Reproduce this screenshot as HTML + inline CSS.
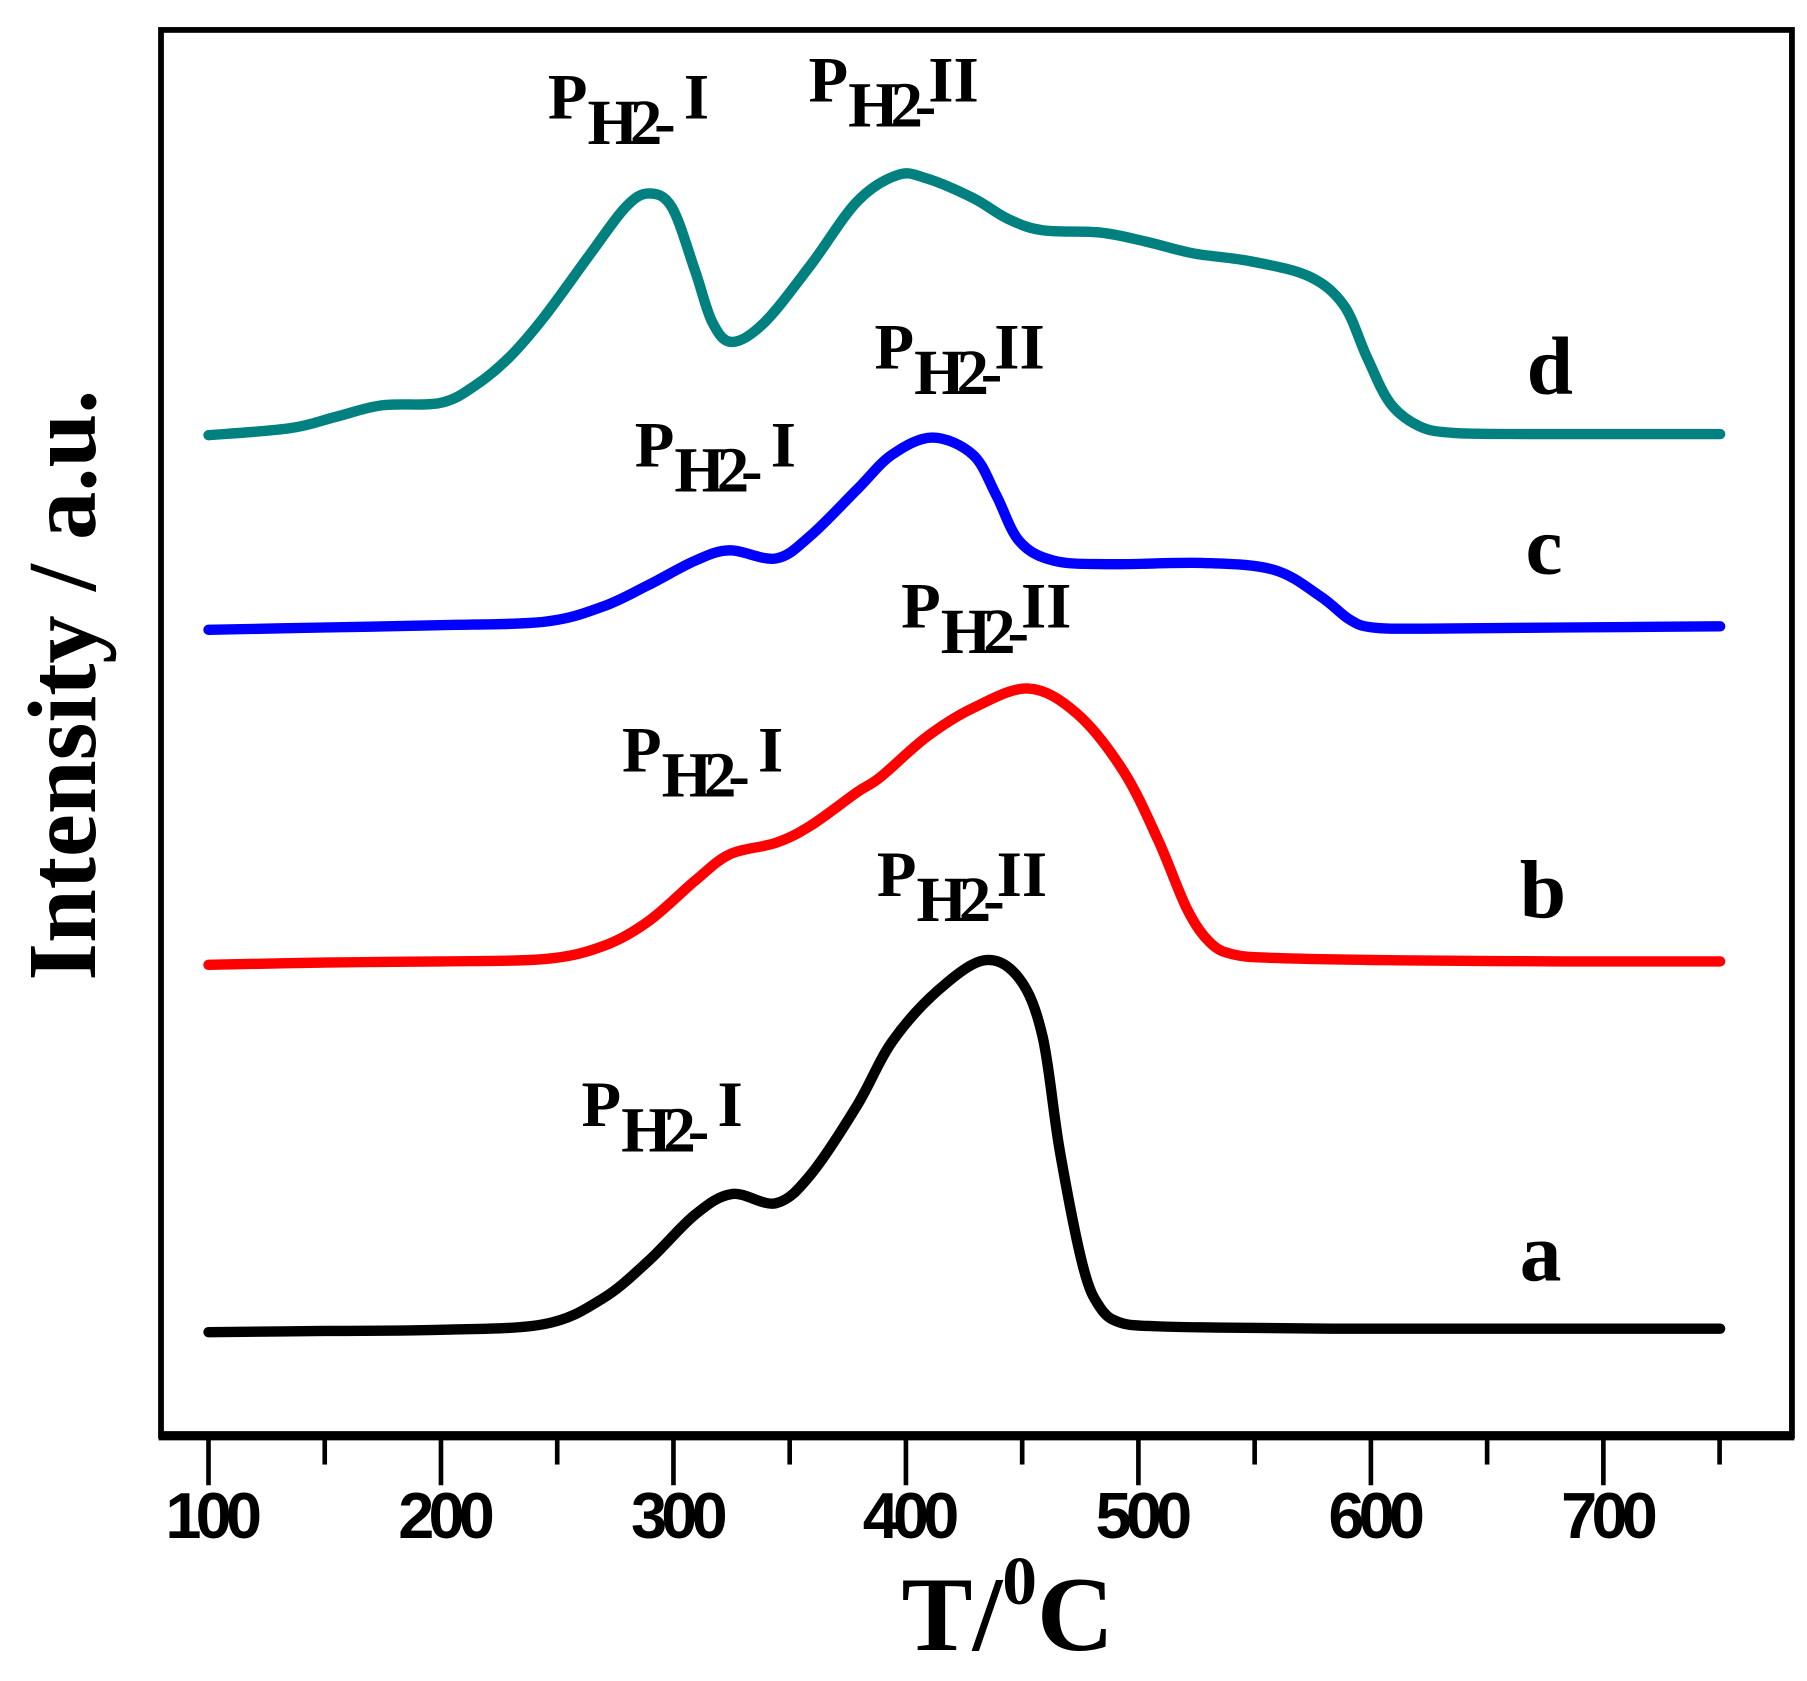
<!DOCTYPE html>
<html><head><meta charset="utf-8"><style>
html,body{margin:0;padding:0;background:#fff;}
svg{display:block;}
text{font-family:"Liberation Serif",serif;font-weight:bold;fill:#000;}
.tk text{font-family:"Liberation Sans",sans-serif;font-size:56px;letter-spacing:-5px;}
</style></head><body>
<svg id="s" width="1807" height="1681" viewBox="0 0 1560 1460" preserveAspectRatio="none" xmlns="http://www.w3.org/2000/svg">
<rect x="0" y="0" width="1560" height="1460" fill="#fff"/>
<rect x="139" y="26" width="1408" height="1221" fill="none" stroke="#000" stroke-width="5"/>
<line x1="137" y1="1247" x2="1549" y2="1247" stroke="#000" stroke-width="8"/>
<g stroke="#000" stroke-width="4" id="ticks"></g>
<g class="tk" text-anchor="middle">
<text x="182" y="1336">100</text><text x="383" y="1336">200</text><text x="584" y="1336">300</text><text x="784" y="1336">400</text><text x="985" y="1336">500</text><text x="1186" y="1336">600</text><text x="1387" y="1336">700</text>
</g>
<text x="870" y="1433" font-size="92" text-anchor="middle">T/<tspan font-size="60" dy="-40">0</tspan><tspan dy="40">C</tspan></text>
<text transform="translate(82,595) rotate(-90)" font-size="84" text-anchor="middle">Intensity / a.u.</text>
<g id="curves" fill="none" stroke-width="9" stroke-linecap="round" stroke-linejoin="round"></g>
<g font-size="56">
<text x="473" y="103">P<tspan dy="22" letter-spacing="-7">H2-</tspan><tspan dy="-22"> I</tspan></text>
<text x="698" y="88">P<tspan dy="22" letter-spacing="-7">H2-</tspan><tspan dy="-22">II</tspan></text>
<text x="548" y="405">P<tspan dy="22" letter-spacing="-7">H2-</tspan><tspan dy="-22"> I</tspan></text>
<text x="755" y="320">P<tspan dy="22" letter-spacing="-7">H2-</tspan><tspan dy="-22">II</tspan></text>
<text x="537" y="670">P<tspan dy="22" letter-spacing="-7">H2-</tspan><tspan dy="-22"> I</tspan></text>
<text x="778" y="545">P<tspan dy="22" letter-spacing="-7">H2-</tspan><tspan dy="-22">II</tspan></text>
<text x="502" y="978">P<tspan dy="22" letter-spacing="-7">H2-</tspan><tspan dy="-22"> I</tspan></text>
<text x="757" y="778">P<tspan dy="22" letter-spacing="-7">H2-</tspan><tspan dy="-22">II</tspan></text>
</g>
<g font-size="72" text-anchor="middle">
<text x="1338" y="342">d</text><text x="1333" y="498">c</text><text x="1332" y="797">b</text><text x="1330" y="1112">a</text>
</g>
</svg>
<script>
var NS="http://www.w3.org/2000/svg";
var tg=document.getElementById("ticks");
for(var i=0;i<=13;i++){var x=180+i*100.35;var l=document.createElementNS(NS,"line");
l.setAttribute("x1",x);l.setAttribute("x2",x);l.setAttribute("y1",1247);l.setAttribute("y2",i%2?1272:1290);tg.appendChild(l);}
function cr(p){var d="M"+p[0][0]+","+p[0][1];for(var i=0;i<p.length-1;i++){var p0=p[i-1]||p[i],p1=p[i],p2=p[i+1],p3=p[i+2]||p2;
d+=" C"+(p1[0]+(p2[0]-p0[0])/6)+","+(p1[1]+(p2[1]-p0[1])/6)+" "+(p2[0]-(p3[0]-p1[0])/6)+","+(p2[1]-(p3[1]-p1[1])/6)+" "+p2[0]+","+p2[1];}return d;}
var C=[
["#000",[[180,1157],[280,1156],[380,1155],[470,1150],[520,1128],[560,1095],[600,1055],[632,1037],[670,1045],[700,1020],[740,960],[770,905],[810,860],[850,834],[880,850],[900,900],[915,1000],[935,1100],[950,1136],[968,1149],[1000,1152],[1050,1153],[1150,1154],[1300,1154],[1485,1154]]],
["#ff0000",[[180,838],[280,836],[380,835],[470,833],[520,822],[560,800],[600,765],[630,742],[670,732],[700,717],[740,688],[760,675],[800,640],[840,615],[888,598],[930,620],[970,670],[1000,730],[1025,790],[1045,819],[1065,829],[1100,832],[1200,834],[1350,835],[1485,835]]],
["#0000ff",[[180,547],[280,545],[380,543],[470,540],[520,527],[560,508],[600,487],[630,478],[670,485],[700,465],[740,425],[770,395],[805,380],[840,395],[860,430],[880,470],[910,487],[960,490],[1040,489],[1100,495],[1140,518],[1165,538],[1185,545],[1230,546],[1350,545],[1485,544]]],
["#00807f",[[180,378],[250,372],[290,362],[330,352],[380,350],[410,335],[440,310],[470,275],[510,220],[540,180],[560,168],[580,180],[600,235],[615,280],[632,297],[660,280],[700,230],[740,175],[775,152],[800,155],[840,172],[870,190],[900,200],[950,202],[990,210],[1030,220],[1080,227],[1130,240],[1160,265],[1180,310],[1200,350],[1225,370],[1255,376],[1320,377],[1400,377],[1485,377]]]];
var cg=document.getElementById("curves");
C.forEach(function(c){var p=document.createElementNS(NS,"path");p.setAttribute("d",cr(c[1]));p.setAttribute("stroke",c[0]);cg.appendChild(p);});
</script>
</body></html>
